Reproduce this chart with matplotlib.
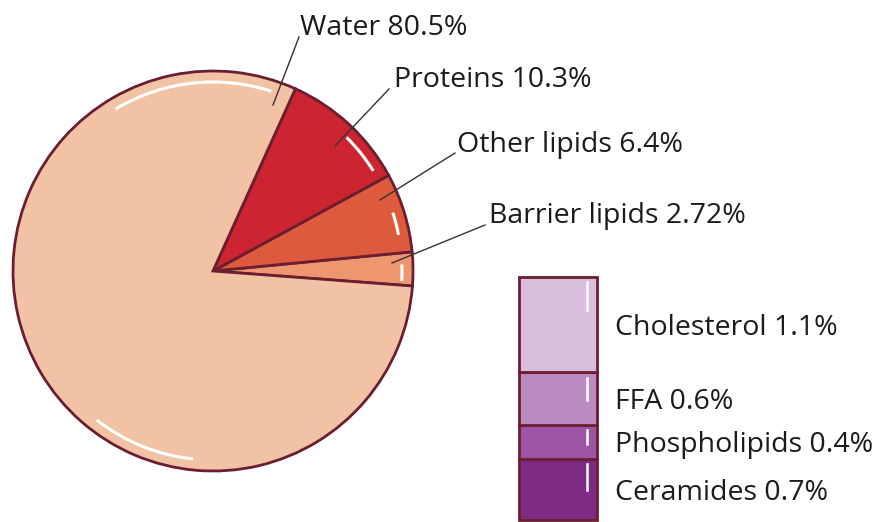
import matplotlib
matplotlib.use("Agg")
import matplotlib.pyplot as plt
from matplotlib.patches import Arc

plt.rcParams['font.family'] = ['Open Sans', 'DejaVu Sans']

# ---- data ----
pie_labels = ["Barrier lipids", "Other lipids", "Proteins", "Water"]
pie_values = [2.72, 6.4, 10.3, 80.5]
pie_texts = ["Barrier lipids 2.72%", "Other lipids 6.4%", "Proteins 10.3%", "Water 80.5%"]
pie_colors = ["#EE9670", "#DD5A3C", "#CC2431", "#F2C2A5"]

bar_labels = ["Ceramides", "Phospholipids", "FFA", "Cholesterol"]
bar_values = [0.7, 0.4, 0.6, 1.1]
bar_texts = ["Ceramides 0.7%", "Phospholipids 0.4%", "FFA 0.6%", "Cholesterol 1.1%"]
bar_colors = ["#7E2B84", "#9C55A4", "#B98BC0", "#D9BEDD"]

EDGE = "#6A1E30"
TXT = "#1E1A1B"
W, H = 880, 522

fig = plt.figure(figsize=(8.8, 5.22), dpi=100)
ax = fig.add_axes([0, 0, 1, 1])

cx, cy, R = 213, H - 271, 200
wedges, _ = ax.pie(pie_values, colors=pie_colors, startangle=-4.3, counterclock=True,
                   center=(cx, cy), radius=R, frame=True,
                   wedgeprops=dict(edgecolor=EDGE, linewidth=2.0))
ax.set_xlim(0, W)
ax.set_ylim(0, H)
ax.axis('off')

# gloss highlights
for t1, t2 in [(72, 121), (232, 264), (32, 45), (11, 18), (-3, 2)]:
    ax.add_patch(Arc((cx, cy), 2 * R * 0.945, 2 * R * 0.945, theta1=t1, theta2=t2,
                     color='white', lw=2.2, zorder=5))

# pie labels and leader lines (image coords: y down)
fs = 20.5
label_pos = {"Water": (300, 35), "Proteins": (394, 87),
             "Other lipids": (457, 152), "Barrier lipids": (489, 223)}
leaders = {"Water": ((273, 105), (299, 37)), "Proteins": ((335, 146), (389, 89)),
           "Other lipids": ((380, 200), (455, 153)), "Barrier lipids": ((392, 263), (485, 225))}
for lab, txt in zip(pie_labels, pie_texts):
    x, y = label_pos[lab]
    ax.text(x, H - y, txt, fontsize=fs, color=TXT, ha='left', va='baseline')
    (x0, y0), (x1, y1) = leaders[lab]
    ax.plot([x0, x1], [H - y0, H - y1], color='#3a3030', lw=1.0, zorder=6)

# stacked bar
bx0, bx1, btop, bbot = 519, 597, 277, 520
axb = fig.add_axes([bx0 / W, (H - bbot) / H, (bx1 - bx0) / W, (bbot - btop) / H])
total = sum(bar_values)
axb.set_xlim(0, 1)
axb.set_ylim(0, total)
axb.axis('off')
bottom = 0
for lab, v, c, txt in zip(bar_labels, bar_values, bar_colors, bar_texts):
    axb.bar(0.5, v, bottom=bottom, width=1.0, color=c, edgecolor=EDGE, linewidth=2.0,
            clip_on=False)
    top = bottom + v
    axb.plot([0.87, 0.87], [top - 0.06, top - 0.06 - min(0.32, v * 0.42)],
             color='white', lw=1.8, clip_on=False)
    mid = bottom + v / 2
    axb.text(1.23, mid, txt, fontsize=fs, color=TXT, ha='left', va='center_baseline',
             clip_on=False)
    bottom = top

fig.savefig("out.png", dpi=100)
